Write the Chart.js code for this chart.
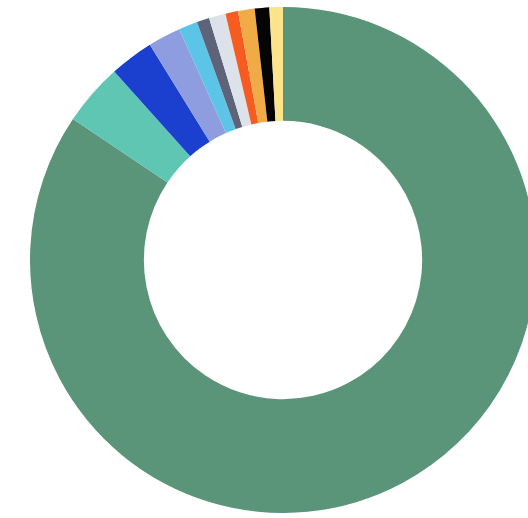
<!DOCTYPE html>
<html>
<head>
<meta charset="utf-8">
<script src="https://cdn.jsdelivr.net/npm/chart.js@4/dist/chart.umd.min.js"></script>
<style>
  html, body { margin: 0; padding: 0; background: #fff; overflow: hidden; width: 528px; height: 518px; }
  #wrap { position: absolute; left: 30px; top: 7px; width: 506px; height: 506px; }
</style>
</head>
<body>
<div id="wrap"><canvas id="dona"></canvas></div>
<script>
// Porcentajes de cada segmento (sentido horario desde arriba)
const categorias = ['Principal', 'Turquesa', 'Azul', 'Lavanda', 'Celeste', 'Pizarra', 'Gris claro', 'Naranja rojo', 'Naranja', 'Negro', 'Amarillo'];
const valores = [84.4, 3.97, 2.8, 2.1, 1.2, 0.8, 1.07, 0.8, 1.06, 0.93, 0.86];
const colores = ['#5a957a', '#5ec6b2', '#1b40cf', '#8e9de0', '#5cc4e6', '#5d6479', '#dde1e9', '#f65b1f', '#f0aa46', '#050505', '#fbe489'];

new Chart(document.getElementById('dona').getContext('2d'), {
    type: 'doughnut',
    data: {
        labels: categorias,
        datasets: [{
            data: valores,
            backgroundColor: colores,
            borderWidth: 0
        }]
    },
    options: {
        responsive: true,
        maintainAspectRatio: false,
        animation: false,
        cutout: '55%',
        layout: { padding: 0 },
        plugins: { legend: { display: false }, tooltip: { enabled: false } }
    }
});
</script>
</body>
</html>
